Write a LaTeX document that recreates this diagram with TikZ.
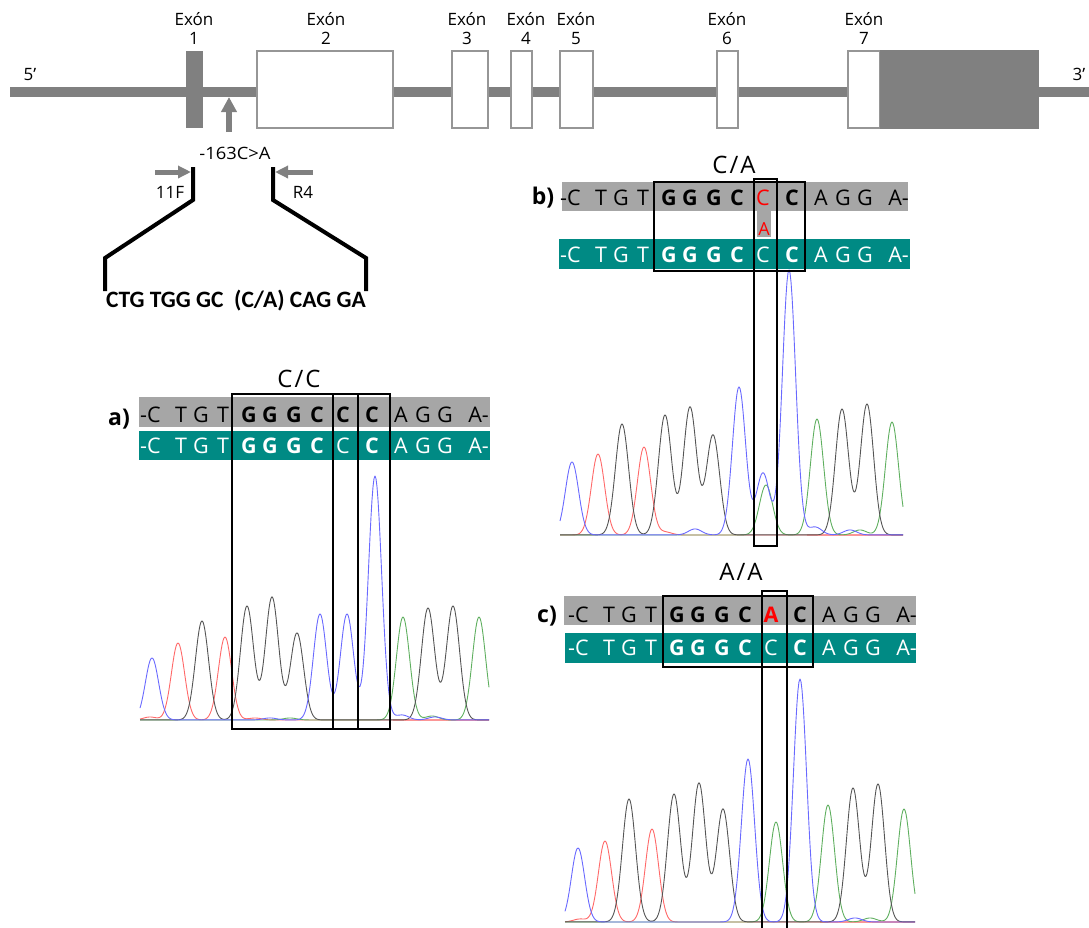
\documentclass[tikz,border=0pt]{standalone}
\usepackage{fontspec}
\setmainfont{Open Sans}
\newfontfamily\calfont{Carlito}
\usetikzlibrary{arrows.meta}

\definecolor{genegray}{RGB}{128,128,128}
\definecolor{exonedge}{RGB}{150,150,150}
\definecolor{refbar}{RGB}{166,166,166}
\definecolor{seqbar}{RGB}{0,138,132}
\definecolor{trblue}{RGB}{105,105,255}
\definecolor{trred}{RGB}{255,105,105}
\definecolor{trblack}{RGB}{85,85,85}
\definecolor{trgreen}{RGB}{95,175,95}
\definecolor{flatpink}{RGB}{250,175,175}
\definecolor{mutred}{RGB}{255,0,0}

\tikzset{
  lbl/.style={anchor=base, inner sep=0pt, font=\fontsize{17}{20}\selectfont},
  seqt/.style={anchor=base, inner sep=0pt, font=\fontsize{21.5}{25}\selectfont},
  seqb/.style={anchor=base, inner sep=0pt, font=\fontsize{21.5}{25}\selectfont\bfseries},
  ttl/.style={anchor=base, inner sep=0pt, font=\fontsize{24}{28}\selectfont},
  panel/.style={anchor=base, inner sep=0pt, font=\fontsize{23}{27}\selectfont\bfseries},
  exon/.style={draw=exonedge, line width=1.8pt, fill=white},
  mutarrow/.style={draw=genegray, line width=6pt, -{Triangle[width=15pt,length=15pt]}},
  primer/.style={draw=genegray, line width=5pt, -{Triangle[width=12pt,length=13pt]}},
  bracket/.style={draw=black, line width=4pt, line join=miter},
  selbox/.style={draw=black, line width=2pt},
  trace/.style={line width=0.9pt, line join=round},
  declare function={pk(\t,\c,\h)=\h*exp(max(-9,-0.5*((\t-\c)/6.6)^2));}
}

% one row of sequence letters; #1 shift, #2 baseline, #3 name prefix,
% #4 letter colour, #5 style and #6 letter of the variable position
\newcommand\seqrow[6]{%
  \begin{scope}[xshift=#1, every node/.append style={text=#4}]
    \node[seqt, anchor=base west] (#3s) at (140,#2) {-C};
    \node[seqt] (#3t1) at (181,#2) {T};
    \node[seqt] (#3g1) at (201,#2) {G};
    \node[seqt] (#3t2) at (223,#2) {T};
    \node[seqb] (#3g2) at (249,#2) {G};
    \node[seqb] (#3g3) at (270,#2) {G};
    \node[seqb] (#3g4) at (294,#2) {G};
    \node[seqb] (#3c1) at (317,#2) {C};
    \node[#5] (#3v) at (343,#2) {#6};
    \node[seqb] (#3c2) at (372,#2) {C};
    \node[seqt] (#3a1) at (401,#2) {A};
    \node[seqt] (#3g5) at (423,#2) {G};
    \node[seqt] (#3g6) at (445,#2) {G};
    \node[seqt, anchor=base east] (#3e) at (489,#2) {A-};
  \end{scope}}

\begin{document}
\begin{tikzpicture}[x=1pt, y=-1pt]
\useasboundingbox (0,0) rectangle (1089,927);

% ---------------- gene structure ----------------
\fill[genegray] (10,87) rectangle (1089,97);
\fill[genegray] (186,51) rectangle (203,128);
\draw[exon] (257,51) rectangle (393,128);
\draw[exon] (452,51) rectangle (488,128);
\draw[exon] (511,51) rectangle (532,128);
\draw[exon] (560,51) rectangle (593,128);
\draw[exon] (717,51) rectangle (738,128);
\draw[exon] (848,51) rectangle (880,128);
\fill[genegray] (880,50) rectangle (1039,129);

\node[lbl] (five) at (30,80) {5’};
\node[lbl] (three) at (1079,80) {3’};

\foreach \xc/\n [count=\i] in {194/1,326/2,467/3,526/4,576/5,727/6,864/7}{
  \node[lbl] (exlbl\i) at (\xc,25) {Exón};
  \node[lbl] (exnum\i) at (\xc,44) {\n};
}

% variant position in intron 1
\coordinate (mutfoot) at (229,132);
\coordinate (mutsite) at (229,97);
\draw[mutarrow] (mutfoot) -- (mutsite);
\node[lbl] (mutlbl) at (235,159) {\scalebox{1.08}[1]{-163C>A}};

% primers and amplified fragment
\coordinate (fwdtail) at (155,172);
\coordinate (fwdhead) at (191,172);
\coordinate (revtail) at (313,172);
\coordinate (revhead) at (275,172);
\draw[primer] (fwdtail) -- (fwdhead);
\draw[primer] (revtail) -- (revhead);
\node[lbl] (fwdlbl) at (170,198) {11F};
\node[lbl] (revlbl) at (303,198) {R4};

\coordinate (l1) at (193,167);
\coordinate (l2) at (193,200);
\coordinate (l3) at (105,258);
\coordinate (l4) at (105,291);
\coordinate (r1) at (273,167);
\coordinate (r2) at (273,200);
\coordinate (r3) at (366,258);
\coordinate (r4) at (366,291);
\draw[bracket] (l1) -- (l2) -- (l3) -- (l4);
\draw[bracket] (r1) -- (r2) -- (r3) -- (r4);
\node[anchor=base, inner sep=0pt, font=\calfont\bfseries\fontsize{23.5}{28}\selectfont]
  (amplicon) at (236,307) {CTG TGG GC\ \ (C/A) CAG GA};

% ---------------- sequence bars ----------------
\fill[refbar] (139,397) rectangle (490,427);
\fill[seqbar] (139,431) rectangle (490,460);
\fill[refbar] (562,182) rectangle (908,211);
\fill[refbar] (757,211) rectangle (771,237);
\fill[seqbar] (559,239) rectangle (910,269);
\fill[refbar] (564,596) rectangle (916,625);
\fill[seqbar] (565,633) rectangle (916,663);

\seqrow{0pt}{422}{ar}{black}{seqb}{C}
\seqrow{0pt}{453}{as}{white}{seqt}{C}
\seqrow{420pt}{205}{br}{black}{{seqt,text=mutred}}{C}
\seqrow{420pt}{262}{bs}{white}{seqt}{C}
\seqrow{428pt}{622}{cr}{black}{{seqb,text=mutred}}{A}
\seqrow{428pt}{655}{cs}{white}{seqt}{C}
\node[anchor=base, inner sep=0pt, text=mutred, font=\fontsize{18}{22}\selectfont]
  (balt) at (764,235) {A};

\node[ttl] (ttla) at (299,387) {C\kern2pt/\kern2pt C};
\node[ttl] (ttlb) at (734,173) {C\kern2pt/\kern2pt A};
\node[ttl] (ttlc) at (741,580) {A\kern2pt/\kern2pt A};
\node[panel] (pa) at (119,425) {a)};
\node[panel] (pb) at (543,204) {b)};
\node[panel] (pc) at (547,622) {c)};

% ---------------- chromatograms ----------------
% a) C/C
\draw[flatpink, line width=2pt] (393,720) -- (489,720);
\draw[trace, trred] plot[domain=140:489, samples=350]
  (\x, {720 - pk(\x,178,77) - pk(\x,225,83) - pk(\x,150,3) - pk(\x,255,2)});
\draw[trace, trgreen] plot[domain=140:489, samples=350]
  (\x, {720 - pk(\x,403,103) - pk(\x,479,103) - pk(\x,290,2) - pk(\x,432,4)});
\draw[trace, trblack] plot[domain=140:489, samples=350]
  (\x, {720 - pk(\x,202,99) - pk(\x,247,114) - pk(\x,272,123) - pk(\x,297,87) - pk(\x,428,112) - pk(\x,453,114)});
\draw[trace, trblue] plot[domain=140:489, samples=350]
  (\x, {720 - pk(\x,152,62) - pk(\x,320,106) - pk(\x,347,106) - pk(\x,375,244) - pk(\x,402,5) - pk(\x,435,3) - pk(\x,270,2)});

% b) C/A
\draw[flatpink, line width=2pt] (807,535) -- (903,535);
\draw[trace, trred] plot[domain=560:903, samples=344]
  (\x, {535 - pk(\x,598,81) - pk(\x,644,88) - pk(\x,665,3)});
\draw[trace, trgreen] plot[domain=560:903, samples=344]
  (\x, {535 - pk(\x,766,50) - pk(\x,817,116) - pk(\x,892,113) - pk(\x,860,5)});
\draw[trace, trblack] plot[domain=560:903, samples=344]
  (\x, {535 - pk(\x,622,111) - pk(\x,665,120) - pk(\x,690,128) - pk(\x,713,100) - pk(\x,842,126) - pk(\x,867,131)});
\draw[trace, trblue] plot[domain=560:903, samples=344]
  (\x, {535 - pk(\x,572,73) - pk(\x,739,148) - pk(\x,763,62) - pk(\x,789,265) - pk(\x,695,6) - pk(\x,815,8) - pk(\x,850,5)});

% c) A/A
\draw[flatpink, line width=2pt] (820,922) -- (915,922);
\draw[trace, trred] plot[domain=565:915, samples=351]
  (\x, {922 - pk(\x,605,81) - pk(\x,652,93) - pk(\x,580,3)});
\draw[trace, trgreen] plot[domain=565:915, samples=351]
  (\x, {922 - pk(\x,776,100) - pk(\x,828,117) - pk(\x,904,113) - pk(\x,870,4)});
\draw[trace, trblack] plot[domain=565:915, samples=351]
  (\x, {922 - pk(\x,629,123) - pk(\x,674,128) - pk(\x,699,139) - pk(\x,723,113) - pk(\x,853,134) - pk(\x,878,138)});
\draw[trace, trblue] plot[domain=565:915, samples=351]
  (\x, {922 - pk(\x,578,74) - pk(\x,748,163) - pk(\x,800,243) - pk(\x,855,4)});

% ---------------- selection frames ----------------
\draw[selbox] (232,394) rectangle (390,729);
\draw[selbox] (333,394) rectangle (358,729);
\draw[selbox] (654,182) rectangle (805,271);
\draw[selbox] (754,179) rectangle (777,546);
\draw[selbox] (663,596) rectangle (813,667);
\draw[selbox] (762,591) rectangle (787,935);
\end{tikzpicture}
\end{document}
